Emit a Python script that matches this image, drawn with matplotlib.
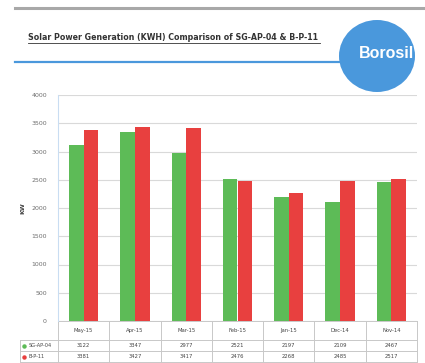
import matplotlib
matplotlib.use("Agg")
import matplotlib.pyplot as plt
import matplotlib.patches as mpatches
from matplotlib.lines import Line2D
from matplotlib import transforms
import numpy as np

W, H = 425, 363

months = ["May-15", "Apr-15", "Mar-15", "Feb-15", "Jan-15", "Dec-14", "Nov-14"]
series_names = ["SG-AP-04", "B-P-11"]
sg_ap_04 = [3122, 3347, 2977, 2521, 2197, 2109, 2467]
b_p_11 = [3381, 3427, 3417, 2476, 2268, 2485, 2517]
yticks = [0, 500, 1000, 1500, 2000, 2500, 3000, 3500, 4000]

GREEN = "#5DBB57"
RED = "#E8403F"
BLUE = "#4A98DC"
GRID = "#D9D9D9"
TXT = "#6E6E6E"
TABLE = "#C8C8C8"


def fx(x):
    return x / W


def fy(y):
    return 1 - y / H


fig = plt.figure(figsize=(W / 100, H / 100), dpi=100)
fig.patch.set_facecolor("white")

# header decorations
fig.add_artist(Line2D([fx(15), fx(425)], [fy(8), fy(8)], color="#A8A8A8", lw=2.2))
fig.add_artist(Line2D([fx(15), fx(345)], [fy(62), fy(62)], color=BLUE, lw=1.6))
fig.text(fx(28), fy(38), "Solar Power Generation (KWH) Comparison of SG-AP-04 & B-P-11",
         fontsize=5.7, fontweight="bold", color="#333333", va="center", ha="left")
fig.add_artist(Line2D([fx(28), fx(320)], [fy(42.5), fy(42.5)], color="#333333", lw=0.6))
circ = mpatches.Ellipse((fx(377), fy(56)), 76 / W, 72 / H, transform=fig.transFigure,
                        color=BLUE, ec="none")
fig.add_artist(circ)
fig.text(fx(386), fy(54), "Borosil", fontsize=11.5, fontweight="bold", color="white",
         family="Liberation Sans", ha="center", va="center")

# chart area
ax = fig.add_axes([fx(58), fy(321), (417 - 58) / W, (321 - 95) / H])
x = np.arange(len(months))
bw = 0.285
ax.bar(x - bw / 2, sg_ap_04, bw, color=GREEN, zorder=3)
ax.bar(x + bw / 2, b_p_11, bw, color=RED, zorder=3)
ax.set_xlim(-0.5, len(months) - 0.5)
ax.set_ylim(0, 4000)
ax.set_yticks(yticks)
ax.set_yticklabels([str(t) for t in yticks])
ax.tick_params(axis="y", length=0, labelsize=4.5, colors=TXT, pad=8)
ax.set_xticks([])
ax.grid(axis="y", color=GRID, lw=0.8, zorder=0)
for s in ["top", "right", "bottom"]:
    ax.spines[s].set_visible(False)
ax.spines["left"].set_color("#C9DDF2")
ax.spines["left"].set_linewidth(0.8)
ax.set_ylabel("KW", fontsize=4.5, fontweight="bold", color="#444444", labelpad=4)

# data table under the chart
tr = transforms.blended_transform_factory(ax.transData, ax.transAxes)
ph = 321 - 95
r0, r1, r2, r3 = 0, -19 / ph, -30 / ph, -41 / ph
kw = dict(color=TABLE, lw=0.7, clip_on=False)
for b in np.arange(-0.5, len(months)):
    ax.plot([b, b], [r0, r3], transform=tr, **kw)
for r in [r0, r1, r2, r3]:
    ax.plot([-0.5, len(months) - 0.5], [r, r], transform=tr, **kw)
# legend column
ta = ax.transAxes
lx = (20 - 58) / (417 - 58)
for r in [r1, r2, r3]:
    ax.plot([lx, 0], [r, r], transform=ta, **kw)
ax.plot([lx, lx], [r1, r3], transform=ta, **kw)

for i, m in enumerate(months):
    ax.text(i, (r0 + r1) / 2, m, transform=tr, ha="center", va="center",
            fontsize=3.8, color="#444444")
    ax.text(i, (r1 + r2) / 2, str(sg_ap_04[i]), transform=tr, ha="center",
            va="center", fontsize=3.8, color="#444444")
    ax.text(i, (r2 + r3) / 2, str(b_p_11[i]), transform=tr, ha="center",
            va="center", fontsize=3.8, color="#444444")

for name, col, (ra, rb) in zip(series_names, [GREEN, RED], [(r1, r2), (r2, r3)]):
    ym = (ra + rb) / 2
    ax.plot([lx + 0.012], [ym], "o", ms=2.2, color=col, transform=ta, clip_on=False)
    ax.text(lx + 0.025, ym, name, transform=ta, ha="left", va="center",
            fontsize=3.6, color="#444444")

fig.savefig("out.png", dpi=100, facecolor="white")
